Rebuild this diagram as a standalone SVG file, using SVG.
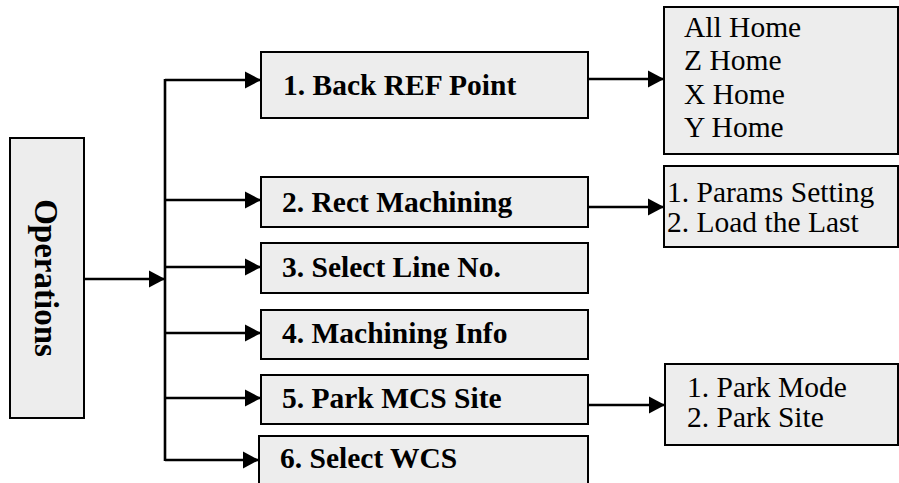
<svg xmlns="http://www.w3.org/2000/svg" width="899" height="483" viewBox="0 0 899 483">
<defs>
<style>
.box{fill:#ededed;stroke:#000;stroke-width:2}
.b{font-family:"Liberation Serif","Times New Roman",serif;font-weight:bold;font-size:29.5px;fill:#000}
.r{font-family:"Liberation Serif","Times New Roman",serif;font-size:29.5px;fill:#000}
.ln{fill:none;stroke:#000;stroke-width:2.6}
</style>
<marker id="ah" markerUnits="userSpaceOnUse" markerWidth="18" markerHeight="18" refX="17" refY="9" orient="auto" viewBox="0 0 18 18">
<path d="M1,0.5 L17,9 L1,17.5 Z" fill="#000"/>
</marker>
</defs>
<rect width="899" height="483" fill="#fff"/>
<g id="connectors">
<path class="ln" d="M84,279 H165" marker-end="url(#ah)"/>
<path class="ln" d="M165,79 V461"/>
<path class="ln" d="M165,80 H261" marker-end="url(#ah)"/>
<path class="ln" d="M165,200 H261" marker-end="url(#ah)"/>
<path class="ln" d="M165,267 H261" marker-end="url(#ah)"/>
<path class="ln" d="M165,333 H261" marker-end="url(#ah)"/>
<path class="ln" d="M165,398 H261" marker-end="url(#ah)"/>
<path class="ln" d="M165,460 H259" marker-end="url(#ah)"/>
<path class="ln" d="M588,79 H664" marker-end="url(#ah)"/>
<path class="ln" d="M588,207 H664" marker-end="url(#ah)"/>
<path class="ln" d="M588,405 H665" marker-end="url(#ah)"/>
</g>
<g id="operations">
<rect class="box" x="10" y="138" width="74" height="280"/>
<text class="b" transform="translate(35,278) rotate(90)" text-anchor="middle" style="font-size:33px">Operations</text>
</g>
<g id="n1">
<rect class="box" x="261" y="52" width="327" height="66"/>
<text class="b" x="283" y="95">1. Back REF Point</text>
</g>
<g id="n2">
<rect class="box" x="261" y="177" width="327" height="50"/>
<text class="b" x="282" y="212">2. Rect Machining</text>
</g>
<g id="n3">
<rect class="box" x="261" y="243" width="327" height="50"/>
<text class="b" x="282" y="277">3. Select Line No.</text>
</g>
<g id="n4">
<rect class="box" x="261" y="310" width="327" height="49"/>
<text class="b" x="282" y="343">4. Machining Info</text>
</g>
<g id="n5">
<rect class="box" x="261" y="375" width="327" height="49"/>
<text class="b" x="282" y="408">5. Park MCS Site</text>
</g>
<g id="n6">
<rect class="box" x="259" y="436" width="329" height="60"/>
<text class="b" x="280" y="468">6. Select WCS</text>
</g>
<g id="home">
<rect class="box" x="664" y="7" width="234" height="147"/>
<text class="r" x="684" y="36.5">All Home</text>
<text class="r" x="684" y="70">Z Home</text>
<text class="r" x="684" y="103.5">X Home</text>
<text class="r" x="684" y="137">Y Home</text>
</g>
<g id="params">
<rect class="box" x="664" y="166" width="234" height="81"/>
<text class="r" x="667" y="202">1. Params Setting</text>
<text class="r" x="667" y="232">2. Load the Last</text>
</g>
<g id="park">
<rect class="box" x="665" y="364" width="233" height="81"/>
<text class="r" x="687" y="397">1. Park Mode</text>
<text class="r" x="687" y="427">2. Park Site</text>
</g>
</svg>
